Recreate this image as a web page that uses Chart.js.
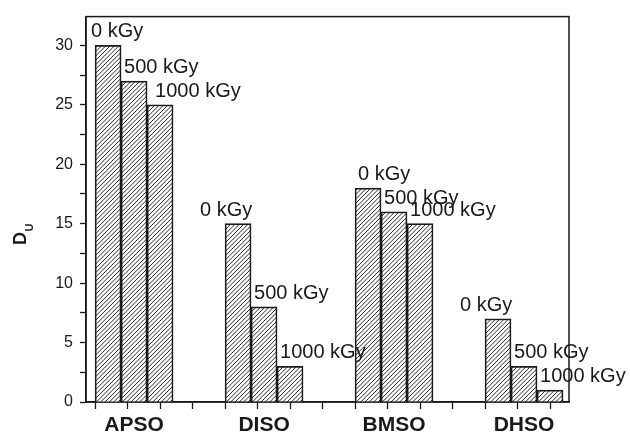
<!DOCTYPE html>
<html>
<head>
<meta charset="utf-8">
<script src="https://cdn.jsdelivr.net/npm/chart.js@4/dist/chart.umd.min.js"></script>
<style>
  html, body { margin: 0; padding: 0; background: #fff; }
  #wrap { width: 630px; height: 432px; }
</style>
</head>
<body>
<div id="wrap"><canvas id="myChart" width="630" height="432"></canvas></div>
<script>
// categories and doses
const samples = ['APSO', 'DISO', 'BMSO', 'DHSO'];
const doses = ['0 kGy', '500 kGy', '1000 kGy'];

// D_U values per dose, one entry per sample
const du0 = [30, 15, 18, 7];
const du500 = [27, 8, 16, 3];
const du1000 = [25, 3, 15, 1];

const yTicks = [0, 5, 10, 15, 20, 25, 30];

const FONT = "Arial, 'Liberation Sans', Helvetica, sans-serif";
const INK = '#1a1a1a';

// each sample gets a slot of 5 bar widths: 3 bars + gap
const SLOT = 5;
const groupCenter = i => SLOT * i + 1.5;

// diagonal hatch pattern
function makeHatch() {
  const s = 13;
  const c = document.createElement('canvas');
  c.width = s; c.height = s;
  const g = c.getContext('2d');
  g.fillStyle = '#fff';
  g.fillRect(0, 0, s, s);
  g.strokeStyle = '#2a2a2a';
  g.lineWidth = 1;
  for (let k = -1; k <= 7; k++) {
    const d = k * s / 3;
    g.beginPath();
    g.moveTo(d + 1, -1);
    g.lineTo(d - s - 1, s + 1);
    g.stroke();
  }
  return g.createPattern(c, 'repeat');
}
const hatch = makeHatch();

function series(label, values) {
  return {
    label: label,
    data: values.map((v, i) => ({ x: groupCenter(i), y: v })),
    backgroundColor: hatch,
    borderColor: INK,
    borderWidth: 1.7,
    borderSkipped: 'start',
    barThickness: 26
  };
}

function isLabelTick(v) {
  const g = (v - 1.5) / SLOT;
  return Math.abs(g - Math.round(g)) < 1e-6;
}

// frame round the plot area
const framePlugin = {
  id: 'frame',
  beforeDatasetsDraw(chart) {
    const a = chart.chartArea;
    const ctx = chart.ctx;
    ctx.save();
    ctx.strokeStyle = INK;
    ctx.lineWidth = 1.5;
    ctx.strokeRect(a.left, a.top, a.right - a.left, a.bottom - a.top);
    ctx.restore();
  }
};

// dose text above each bar
const barLabelPlugin = {
  id: 'barLabels',
  afterDatasetsDraw(chart) {
    const ctx = chart.ctx;
    ctx.save();
    ctx.font = '20px ' + FONT;
    ctx.fillStyle = INK;
    ctx.textAlign = 'left';
    ctx.textBaseline = 'alphabetic';
    chart.data.datasets.forEach((ds, di) => {
      const meta = chart.getDatasetMeta(di);
      meta.data.forEach((bar, i) => {
        let x = bar.x - bar.width / 2 + 3;
        // first label of the lower groups sits further left
        if (di === 0 && (i === 1 || i === 3)) x -= 28;
        if (di === 0 && i === 0) x -= 7;
        if (di === 2 && i === 0) x += 5;
        ctx.fillText(ds.label, x, bar.y - 8);
      });
    });
    ctx.restore();
  }
};

// y title: D with subscript U
const yTitlePlugin = {
  id: 'yTitle',
  afterDraw(chart) {
    const ctx = chart.ctx;
    ctx.save();
    ctx.fillStyle = INK;
    ctx.translate(26, 245);
    ctx.rotate(-Math.PI / 2);
    ctx.textBaseline = 'alphabetic';
    ctx.font = 'bold 18px ' + FONT;
    ctx.fillText('D', 0, 0);
    const w = ctx.measureText('D').width;
    ctx.font = 'bold 11px ' + FONT;
    ctx.fillText('U', w + 0.5, 7);
    ctx.restore();
  }
};

const ctx = document.getElementById('myChart').getContext('2d');
new Chart(ctx, {
  type: 'bar',
  data: {
    datasets: [series(doses[0], du0), series(doses[1], du500), series(doses[2], du1000)]
  },
  options: {
    responsive: false,
    animation: false,
    layout: { padding: { top: 13, right: 61, left: 0, bottom: 0 } },
    plugins: {
      legend: { display: false },
      tooltip: { enabled: false }
    },
    scales: {
      x: {
        type: 'linear',
        offset: false,
        min: -0.35,
        max: 18.23,
        afterBuildTicks(scale) {
          const t = [];
          for (let v = 0; v <= 17.5 + 1e-6; v += 1.25) t.push({ value: v });
          samples.forEach((s, i) => t.push({ value: groupCenter(i) }));
          t.sort((a, b) => a.value - b.value);
          scale.ticks = t;
        },
        afterFit(scale) { scale.height = 30; },
        border: { display: true, color: INK, width: 1.5 },
        grid: {
          offset: false,
          drawOnChartArea: false,
          drawTicks: true,
          tickLength: 7,
          tickWidth: 1.3,
          tickColor: c => (c.tick && isLabelTick(c.tick.value)) ? 'rgba(0,0,0,0)' : INK
        },
        ticks: {
          autoSkip: false,
          maxRotation: 0,
          padding: 4,
          color: INK,
          font: { family: FONT, size: 21, weight: 'bold' },
          callback: v => isLabelTick(v) ? samples[Math.round((v - 1.5) / SLOT)] : ''
        }
      },
      y: {
        min: 0,
        max: 32.42,
        afterFit(scale) { scale.width = 86; },
        border: { display: true, color: INK, width: 1.5 },
        grid: {
          drawOnChartArea: false,
          drawTicks: true,
          tickLength: 6,
          tickWidth: 1.3,
          tickColor: INK
        },
        ticks: {
          stepSize: 2.5,
          includeBounds: false,
          padding: 7,
          color: INK,
          font: { family: FONT, size: 16 },
          callback: v => yTicks.includes(v) ? String(v) : ''
        }
      }
    }
  },
  plugins: [framePlugin, barLabelPlugin, yTitlePlugin]
});
</script>
</body>
</html>
